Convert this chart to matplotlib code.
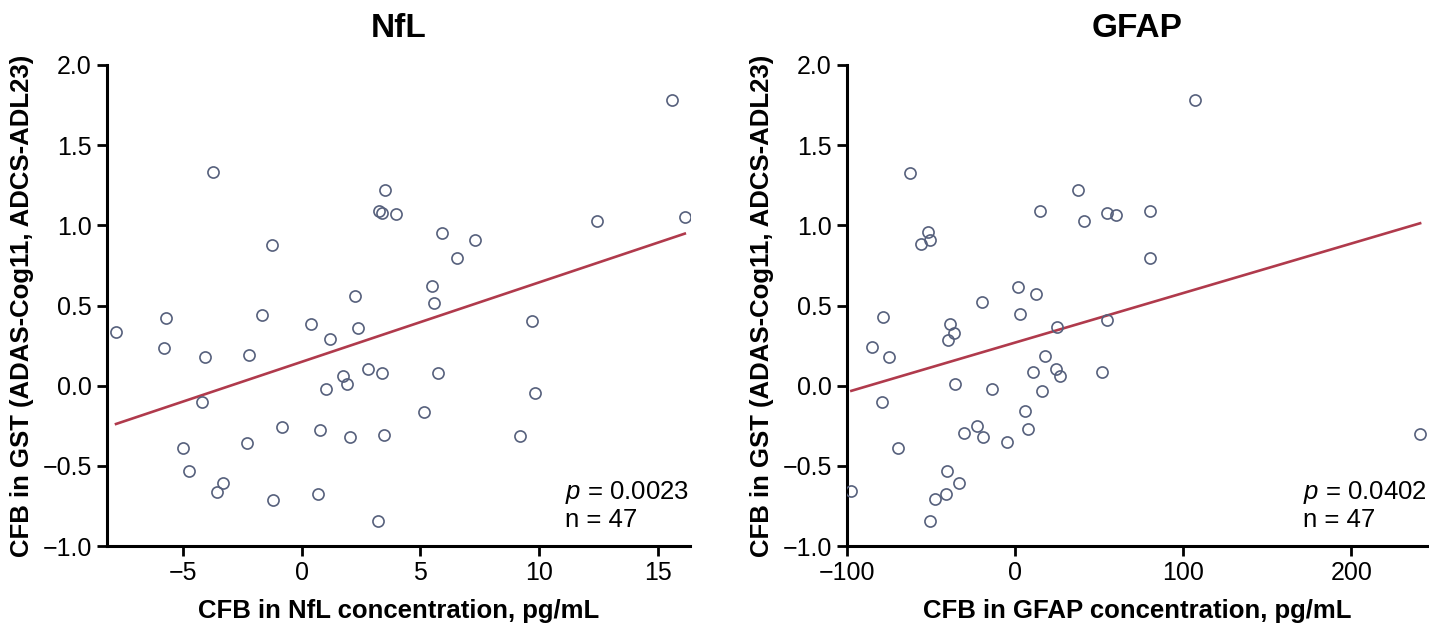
import numpy as np
import matplotlib
matplotlib.use("Agg")
import matplotlib.pyplot as plt

plt.rcParams['font.family'] = ['Liberation Sans', 'DejaVu Sans']
plt.rcParams['mathtext.fontset'] = 'custom'
plt.rcParams['mathtext.rm'] = 'Liberation Sans'
plt.rcParams['mathtext.it'] = 'Liberation Sans:italic'

# NfL panel (CFB in NfL vs CFB in GST)
nfl_x = [-7.82, -5.72, -5.78, -4.08, -2.22, -1.67, -4.18, -5.01, -4.75, -3.33,
         -3.56, -2.32, -1.21, -0.84, 0.41, 1.21, 2.36, 0.76, 0.70, 1.01,
         1.72, 1.89, 2.05, 2.80, 3.38, 3.45, 3.21, 2.24, -3.73, 3.52,
         3.26, 3.40, 3.97, -1.27, 15.58, 16.13, 12.45, 5.91, 7.30, 6.55,
         5.50, 5.57, 9.68, 5.74, 9.83, 5.15, 9.21]
nfl_y = [0.333, 0.42, 0.233, 0.181, 0.191, 0.443, -0.104, -0.387, -0.532, -0.609,
         -0.663, -0.357, -0.715, -0.26, 0.387, 0.289, 0.362, -0.274, -0.676, -0.023,
         0.06, 0.012, -0.32, 0.104, 0.077, -0.306, -0.847, 0.561, 1.335, 1.221,
         1.092, 1.079, 1.071, 0.878, 1.78, 1.052, 1.027, 0.95, 0.911, 0.798,
         0.62, 0.518, 0.405, 0.079, -0.046, -0.166, -0.314]

# GFAP panel
gfap_x = [-62.7, -52.1, -50.7, -55.7, 15.0, 37.2, 41.0, 54.7, 59.9, 1.7,
          12.6, -19.8, 107.1, 80.5, 80.5, 240.9, -97.4, -78.5, -85.3, -74.9,
          -78.9, -69.4, -38.6, -36.6, -40.0, 2.9, 24.7, 54.7, -35.6, -14.0,
          17.6, 10.8, 24.1, 26.5, 51.7, 16.0, 5.8, 7.4, -22.5, -18.9,
          -30.7, -4.9, -40.6, -33.5, -41.0, -47.8, -50.7]
gfap_y = [1.326, 0.958, 0.908, 0.881, 1.09, 1.218, 1.03, 1.074, 1.064, 0.616,
          0.571, 0.519, 1.781, 1.09, 0.797, -0.303, -0.656, 0.427, 0.240, 0.178,
          -0.101, -0.386, 0.384, 0.326, 0.284, 0.448, 0.363, 0.409, 0.009, -0.018,
          0.186, 0.086, 0.107, 0.061, 0.086, -0.036, -0.159, -0.273, -0.253, -0.323,
          -0.298, -0.354, -0.531, -0.610, -0.673, -0.708, -0.845]

panels = [
    dict(title='NfL', x=nfl_x, y=nfl_y, xlim=(-8.2, 16.35), xticks=[-5, 0, 5, 10, 15],
         xlabel='CFB in NfL concentration, pg/mL', p='0.0023', n=47,
         rect=[107 / 1429, 88 / 634, 583 / 1429, 481 / 634]),
    dict(title='GFAP', x=gfap_x, y=gfap_y, xlim=(-100, 245), xticks=[-100, 0, 100, 200],
         xlabel='CFB in GFAP concentration, pg/mL', p='0.0402', n=47,
         rect=[847 / 1429, 88 / 634, 580 / 1429, 481 / 634]),
]

dot_color = '#56607c'
line_color = '#b03a4c'

fig = plt.figure(figsize=(14.29, 6.34), dpi=100)

for pn in panels:
    ax = fig.add_axes(pn['rect'])
    x = np.array(pn['x'])
    y = np.array(pn['y'])
    ax.plot(x, y, linestyle='', marker='o', markersize=8, markerfacecolor='none',
            markeredgecolor=dot_color, markeredgewidth=1.2, zorder=3)

    # linear fit over the data range
    slope, icpt = np.polyfit(x, y, 1)
    xs = np.array([x.min(), x.max()])
    ax.plot(xs, slope * xs + icpt, color=line_color, linewidth=1.9, zorder=2)

    ax.set_xlim(*pn['xlim'])
    ax.set_ylim(-1.0, 2.0)
    ax.set_xticks(pn['xticks'])
    ax.set_yticks([-1.0, -0.5, 0.0, 0.5, 1.0, 1.5, 2.0])
    ax.set_yticklabels(['\u22121.0', '\u22120.5', '0.0', '0.5', '1.0', '1.5', '2.0'])
    ax.set_xticklabels([str(t).replace('-', '\u2212') for t in pn['xticks']])

    for s in ['top', 'right']:
        ax.spines[s].set_visible(False)
    for s in ['left', 'bottom']:
        ax.spines[s].set_linewidth(2.2)
    ax.tick_params(direction='out', length=7, width=2, labelsize=18, pad=4)

    ax.set_title(pn['title'], fontsize=24, fontweight='bold', pad=20)
    ax.set_xlabel(pn['xlabel'], fontsize=18.5, fontweight='bold', labelpad=10)
    ax.set_ylabel('CFB in GST (ADAS-Cog11, ADCS-ADL23)', fontsize=18.5,
                  fontweight='bold', labelpad=6)

    ax.text(0.786, 0.112, r'$\it{p}$ = ' + pn['p'], transform=ax.transAxes,
            fontsize=18.5, va='center', ha='left')
    ax.text(0.786, 0.054, 'n = %d' % pn['n'], transform=ax.transAxes,
            fontsize=18.5, va='center', ha='left')

fig.savefig('out.png', dpi=100)
